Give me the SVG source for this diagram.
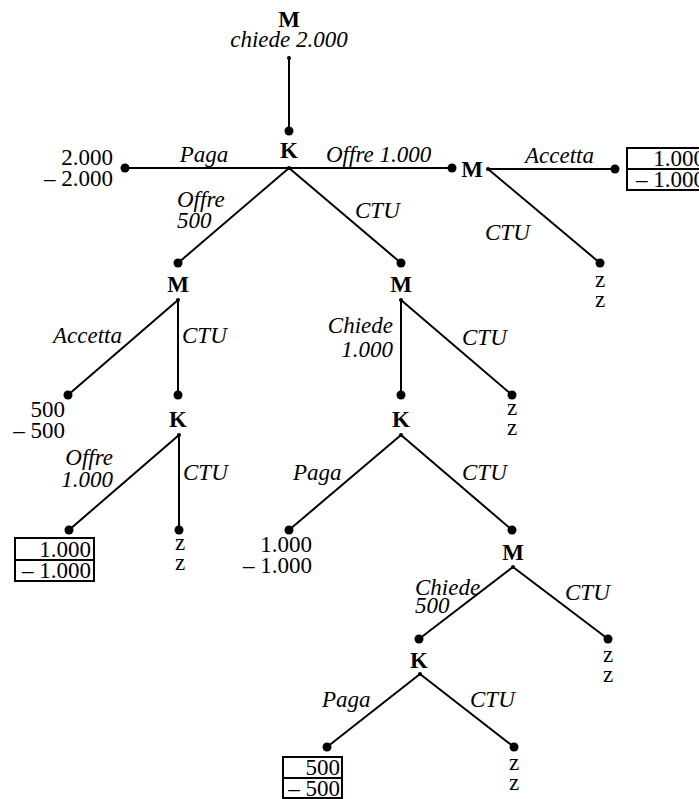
<svg xmlns="http://www.w3.org/2000/svg" width="699" height="799" viewBox="0 0 699 799">
<style>
text{font-family:"Liberation Serif","Times New Roman",serif;font-size:23px;fill:#000}
.p{font-weight:bold;text-anchor:middle}
.l{font-style:italic}
.m{text-anchor:middle}
.e{text-anchor:end}
.edge{stroke:#000;stroke-width:2;fill:none}
.d{fill:#000}
.box{fill:#fff;stroke:#000;stroke-width:2}
</style>
<rect width="699" height="799" fill="#fff"/>
<g id="connectors">
<line class="edge" x1="289" y1="58" x2="289" y2="131"/>
<line class="edge" x1="125" y1="168" x2="452" y2="168"/>
<line class="edge" x1="289" y1="168" x2="178" y2="263"/>
<line class="edge" x1="289" y1="168" x2="401" y2="263"/>
<line class="edge" x1="488" y1="169" x2="615" y2="169"/>
<line class="edge" x1="488" y1="169" x2="600" y2="263"/>
<line class="edge" x1="178" y1="300" x2="68" y2="395"/>
<line class="edge" x1="178" y1="300" x2="178" y2="395"/>
<line class="edge" x1="401" y1="300" x2="401" y2="395"/>
<line class="edge" x1="401" y1="300" x2="512" y2="395"/>
<line class="edge" x1="179" y1="435" x2="69" y2="530"/>
<line class="edge" x1="179" y1="435" x2="179" y2="530"/>
<line class="edge" x1="401" y1="435" x2="289" y2="530"/>
<line class="edge" x1="401" y1="435" x2="512" y2="530"/>
<line class="edge" x1="513" y1="567" x2="419" y2="639"/>
<line class="edge" x1="513" y1="567" x2="608" y2="639"/>
<line class="edge" x1="420" y1="674" x2="327" y2="747"/>
<line class="edge" x1="420" y1="674" x2="514" y2="747"/>
</g>
<g id="labels">
<text class="l" x="204" y="162" text-anchor="middle">Paga</text>
<text class="l" x="326" y="162">Offre 1.000</text>
<text class="l" x="177" y="207">Offre</text>
<text class="l" x="177" y="228">500</text>
<text class="l" x="355" y="218">CTU</text>
<text class="l" x="525" y="163">Accetta</text>
<text class="l" x="485" y="240">CTU</text>
<text class="l e" x="122" y="343">Accetta</text>
<text class="l" x="182" y="343">CTU</text>
<text class="l e" x="393" y="333">Chiede</text>
<text class="l e" x="393" y="357">1.000</text>
<text class="l" x="462" y="345">CTU</text>
<text class="l e" x="113" y="465">Offre</text>
<text class="l e" x="113" y="487">1.000</text>
<text class="l" x="183" y="480">CTU</text>
<text class="l" x="293" y="480">Paga</text>
<text class="l" x="462" y="480">CTU</text>
<text class="l" x="415" y="595">Chiede</text>
<text class="l" x="415" y="613">500</text>
<text class="l" x="565" y="600">CTU</text>
<text class="l" x="322" y="707">Paga</text>
<text class="l" x="470" y="707">CTU</text>
</g>
<g id="n-root">
<text class="p" x="289" y="27">M</text>
<text class="l m" x="289" y="47">chiede 2.000</text>
<circle class="d" cx="289" cy="58" r="2"/>
</g>
<g id="n-k1">
<circle class="d" cx="289" cy="131" r="4.5"/>
<text class="p" x="289" y="158">K</text>
<circle class="d" cx="289" cy="168" r="2"/>
</g>
<g id="t-paga1">
<circle class="d" cx="125" cy="168" r="4.5"/>
<text class="e" x="113" y="165">2.000</text>
<text class="e" x="113" y="186">– 2.000</text>
</g>
<g id="n-m-right">
<circle class="d" cx="452" cy="168" r="4.5"/>
<text class="p" x="472" y="177">M</text>
<circle class="d" cx="488" cy="169" r="2"/>
</g>
<g id="t-accetta1">
<circle class="d" cx="615" cy="169" r="4.5"/>
<rect class="box" x="627" y="148" width="80" height="42"/>
<line class="edge" x1="627" y1="169" x2="707" y2="169"/>
<text class="e" x="705" y="166">1.000</text>
<text class="e" x="705" y="187">– 1.000</text>
</g>
<g id="t-ctu-right">
<circle class="d" cx="600" cy="263" r="4.5"/>
<text class="m" x="600" y="287">z</text>
<text class="m" x="600" y="307">z</text>
</g>
<g id="n-m-left">
<circle class="d" cx="178" cy="263" r="4.5"/>
<text class="p" x="178" y="292">M</text>
<circle class="d" cx="178" cy="300" r="2"/>
</g>
<g id="n-m-mid">
<circle class="d" cx="401" cy="263" r="4.5"/>
<text class="p" x="401" y="292">M</text>
<circle class="d" cx="401" cy="300" r="2"/>
</g>
<g id="t-accetta2">
<circle class="d" cx="68" cy="395" r="4.5"/>
<text class="e" x="65" y="417">500</text>
<text class="e" x="65" y="438">– 500</text>
</g>
<g id="n-k-left">
<circle class="d" cx="178" cy="395" r="4.5"/>
<text class="p" x="178" y="427">K</text>
<circle class="d" cx="179" cy="435" r="2"/>
</g>
<g id="t-offre1000">
<circle class="d" cx="69" cy="530" r="4.5"/>
<rect class="box" x="15" y="538" width="79" height="43"/>
<line class="edge" x1="15" y1="560" x2="94" y2="560"/>
<text class="e" x="91" y="557">1.000</text>
<text class="e" x="91" y="578">– 1.000</text>
</g>
<g id="t-ctu-left">
<circle class="d" cx="179" cy="530" r="4.5"/>
<text class="m" x="180" y="550">z</text>
<text class="m" x="180" y="570">z</text>
</g>
<g id="n-k-mid">
<circle class="d" cx="401" cy="395" r="4.5"/>
<text class="p" x="401" y="427">K</text>
<circle class="d" cx="401" cy="435" r="2"/>
</g>
<g id="t-ctu-mid">
<circle class="d" cx="512" cy="395" r="4.5"/>
<text class="m" x="512" y="415">z</text>
<text class="m" x="512" y="435">z</text>
</g>
<g id="t-paga2">
<circle class="d" cx="289" cy="530" r="4.5"/>
<text class="e" x="312" y="552">1.000</text>
<text class="e" x="312" y="573">– 1.000</text>
</g>
<g id="n-m-low">
<circle class="d" cx="512" cy="530" r="4.5"/>
<text class="p" x="513" y="560">M</text>
<circle class="d" cx="513" cy="567" r="2"/>
</g>
<g id="t-ctu-low">
<circle class="d" cx="608" cy="639" r="4.5"/>
<text class="m" x="608" y="662">z</text>
<text class="m" x="608" y="682">z</text>
</g>
<g id="n-k-low">
<circle class="d" cx="419" cy="639" r="4.5"/>
<text class="p" x="419" y="668">K</text>
<circle class="d" cx="420" cy="674" r="2"/>
</g>
<g id="t-paga3">
<circle class="d" cx="327" cy="747" r="4.5"/>
<rect class="box" x="283" y="757" width="59" height="41"/>
<line class="edge" x1="283" y1="778" x2="342" y2="778"/>
<text class="e" x="340" y="775">500</text>
<text class="e" x="340" y="796">– 500</text>
</g>
<g id="t-ctu-bottom">
<circle class="d" cx="514" cy="747" r="4.5"/>
<text class="m" x="514" y="770">z</text>
<text class="m" x="514" y="790">z</text>
</g>
</svg>
